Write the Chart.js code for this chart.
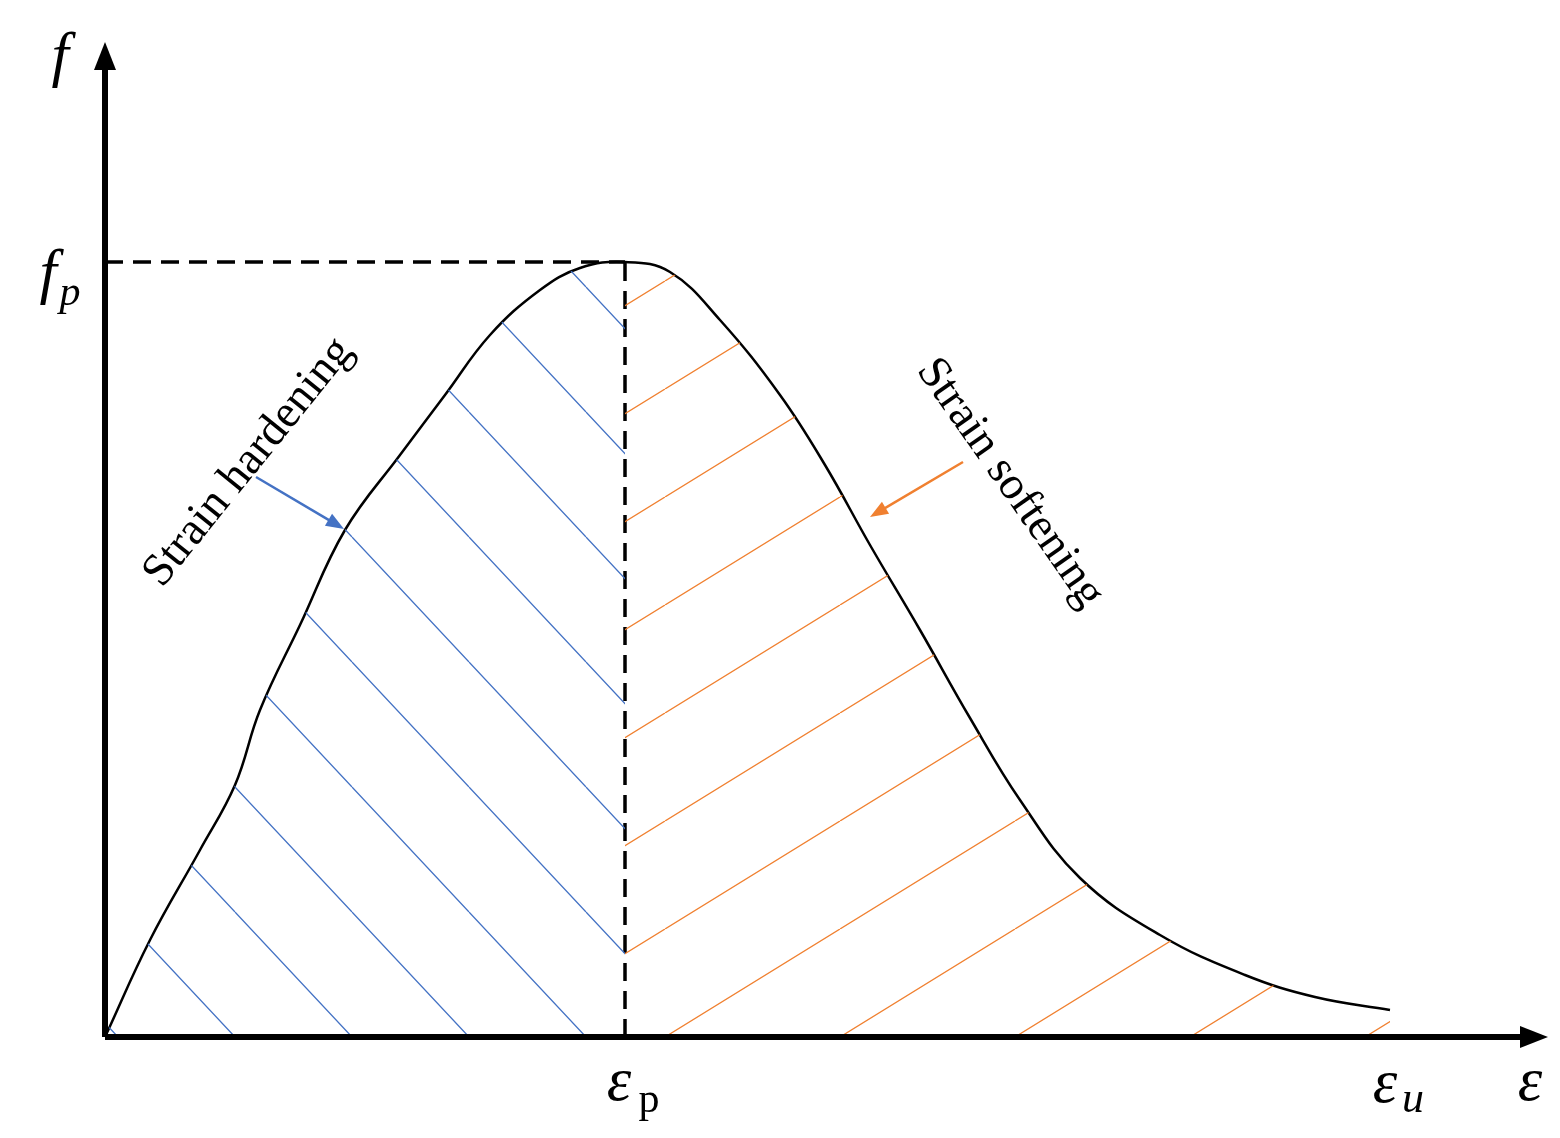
<!DOCTYPE html>
<html>
<head>
<meta charset="utf-8">
<script src="https://cdn.jsdelivr.net/npm/chart.js@4"></script>
<style>
  body { margin: 0; background: #fff; }
  #wrap { width: 1560px; height: 1138px; }
</style>
</head>
<body>
<div id="wrap"><canvas id="chart"></canvas></div>
<script>
// stress-strain curve (strain, stress) in arbitrary units
const strain = [0, 45, 95, 130, 155, 195, 240, 295, 340, 385, 435, 475, 520, 565, 615, 675, 720, 765, 815, 865, 915, 975, 1055, 1140, 1210, 1285];
const stress = [0, 97, 187, 252, 327, 412, 507, 582, 642, 702, 747, 769, 775, 765, 717, 642, 572, 492, 407, 319, 237, 159, 102, 62, 40, 27];
const peakStrain = 520;
const peakStress = 775;
const xMax = 1435;
const yMax = 987;

const ctx = document.getElementById('chart').getContext('2d');

// hatch pattern: one diagonal line per tile
function hatch(w, h, color, down) {
    const c = document.createElement('canvas');
    c.width = w; c.height = h;
    const g = c.getContext('2d');
    g.strokeStyle = color;
    g.lineWidth = 1.3;
    g.beginPath();
    for (let k = -1; k <= 1; k++) {
        if (down) { g.moveTo(k * w, 0); g.lineTo(k * w + w, h); }
        else { g.moveTo(k * w, h); g.lineTo(k * w + w, 0); }
    }
    g.stroke();
    return ctx.createPattern(c, 'repeat');
}
const bluePat = hatch(117, 125, '#4472c4', true);
bluePat.setTransform(new DOMMatrix().translate(235, 1037 - 125 * 8));
const orangePat = hatch(175, 108, '#f08030', false);
orangePat.setTransform(new DOMMatrix().translate(665, 1037 - 108 * 9));

const pts = strain.map((x, i) => ({x: x, y: stress[i]}));
const leftPts = pts.filter(p => p.x <= peakStrain);
const rightPts = pts.filter(p => p.x >= peakStrain);

const labelPlugin = {
    id: 'labels',
    afterDraw(chart) {
        const g = chart.ctx, xs = chart.scales.x, ys = chart.scales.y;
        const X = v => xs.getPixelForValue(v), Y = v => ys.getPixelForValue(v);
        const ox = X(0), oy = Y(0);
        g.save();
        g.strokeStyle = '#000'; g.fillStyle = '#000'; g.lineWidth = 6;
        // axes with arrows
        g.beginPath(); g.moveTo(ox, oy); g.lineTo(X(xMax) - 10, oy); g.moveTo(ox, oy); g.lineTo(ox, Y(yMax) + 10); g.stroke();
        g.beginPath(); g.moveTo(X(xMax) + 8, oy); g.lineTo(X(xMax) - 20, oy - 11); g.lineTo(X(xMax) - 20, oy + 11); g.fill();
        g.beginPath(); g.moveTo(ox, Y(yMax) - 8); g.lineTo(ox - 11, Y(yMax) + 20); g.lineTo(ox + 11, Y(yMax) + 20); g.fill();

        // axis symbols
        g.font = 'italic 62px "Liberation Serif", "DejaVu Serif", serif';
        g.textAlign = 'center'; g.textBaseline = 'alphabetic';
        g.fillText('f', 60, 75);
        g.fillText('f', 48, 292);
        g.font = 'italic 42px "Liberation Serif", serif';
        g.fillText('p', 70, 305);
        g.font = 'italic 62px "Liberation Serif", serif';
        g.fillText('ε', X(peakStrain) - 6, 1100);
        g.font = '42px "Liberation Serif", serif';
        g.fillText('p', X(peakStrain) + 24, 1112);
        g.font = 'italic 62px "Liberation Serif", serif';
        g.fillText('ε', 1385, 1102);
        g.font = 'italic 44px "Liberation Serif", serif';
        g.fillText('u', 1413, 1112);
        g.font = 'italic 62px "Liberation Serif", serif';
        g.fillText('ε', 1530, 1100);

        // rotated annotations
        g.font = '46px "Liberation Serif", "DejaVu Serif", serif';
        g.save(); g.translate(258, 470); g.rotate(-51 * Math.PI / 180); g.fillText('Strain hardening', 0, 0); g.restore();
        g.save(); g.translate(1000, 490); g.rotate(55 * Math.PI / 180); g.fillText('Strain softening', 0, 0); g.restore();

        // small arrows
        function arrow(x1, y1, x2, y2, col) {
            g.strokeStyle = col; g.fillStyle = col; g.lineWidth = 2.5;
            const a = Math.atan2(y2 - y1, x2 - x1);
            g.beginPath(); g.moveTo(x1, y1); g.lineTo(x2 - 12 * Math.cos(a), y2 - 12 * Math.sin(a)); g.stroke();
            g.beginPath(); g.moveTo(x2, y2);
            g.lineTo(x2 - 18 * Math.cos(a) + 7 * Math.sin(a), y2 - 18 * Math.sin(a) - 7 * Math.cos(a));
            g.lineTo(x2 - 18 * Math.cos(a) - 7 * Math.sin(a), y2 - 18 * Math.sin(a) + 7 * Math.cos(a));
            g.fill();
        }
        arrow(256, 477, 344, 529, '#4472c4');
        arrow(963, 462, 870, 517, '#f08030');
        g.restore();
    }
};

new Chart(ctx, {
    type: 'line',
    data: {
        datasets: [
            { data: leftPts, borderWidth: 0, pointRadius: 0, fill: 'origin', backgroundColor: bluePat, tension: 0.4 },
            { data: rightPts, borderWidth: 0, pointRadius: 0, fill: 'origin', backgroundColor: orangePat, tension: 0.4 },
            { data: pts, borderColor: '#000', borderWidth: 2.5, pointRadius: 0, fill: false, tension: 0.4 },
            { data: [{x: 0, y: peakStress}, {x: peakStrain, y: peakStress}], borderColor: '#000', borderWidth: 3.5, borderDash: [18, 10], pointRadius: 0 },
            { data: [{x: peakStrain, y: 0}, {x: peakStrain, y: peakStress}], borderColor: '#000', borderWidth: 3.5, borderDash: [18, 10], pointRadius: 0 }
        ]
    },
    options: {
        responsive: true, maintainAspectRatio: false, animation: false,
        layout: { padding: { left: 105, right: 20, top: 50, bottom: 101 } },
        plugins: { legend: { display: false }, tooltip: { enabled: false } },
        scales: {
            x: { type: 'linear', min: 0, max: xMax, display: false },
            y: { min: 0, max: yMax, display: false }
        }
    },
    plugins: [labelPlugin]
});
</script>
</body>
</html>
